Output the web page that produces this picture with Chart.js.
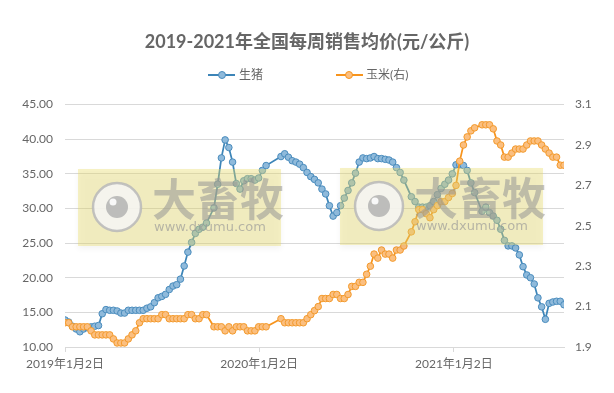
<!DOCTYPE html>
<html><head><meta charset="utf-8">
<script src="https://cdn.jsdelivr.net/npm/chart.js@4.4.1/dist/chart.umd.min.js"></script>
<style>html,body{margin:0;padding:0;background:#fff;}#wrap{width:614px;height:393px;}</style>
</head><body><div id="wrap"><canvas id="c" width="614" height="393"></canvas></div>
<script>
const chartTitle = '2019-2021年全国每周销售均价(元/公斤)';
const seriesNames = ['生猪', '玉米(右)'];
const tickDates = ['2019-01-02', '2020-01-02', '2021-01-02'];
const tickLabels = ['2019年1月2日', '2020年1月2日', '2021年1月2日'];
const watermarkText = ['大畜牧', 'www.dxumu.com'];

const dates = [
'2019-01-02','2019-01-09','2019-01-16','2019-01-23','2019-01-30','2019-02-06','2019-02-13','2019-02-20','2019-02-27',
'2019-03-06','2019-03-13','2019-03-20','2019-03-27','2019-04-03','2019-04-10','2019-04-17','2019-04-24',
'2019-05-01','2019-05-08','2019-05-15','2019-05-22','2019-05-29','2019-06-05','2019-06-12','2019-06-19','2019-06-26',
'2019-07-03','2019-07-10','2019-07-17','2019-07-24','2019-07-31','2019-08-07','2019-08-14','2019-08-21','2019-08-28',
'2019-09-04','2019-09-11','2019-09-18','2019-09-25','2019-10-09','2019-10-16','2019-10-23','2019-10-30',
'2019-11-06','2019-11-13','2019-11-20','2019-11-27','2019-12-04','2019-12-11','2019-12-18','2019-12-25',
'2020-01-01','2020-01-08','2020-01-15','2020-02-12','2020-02-19','2020-02-26',
'2020-03-04','2020-03-11','2020-03-18','2020-03-25','2020-04-01','2020-04-08','2020-04-15','2020-04-22','2020-04-29',
'2020-05-06','2020-05-13','2020-05-20','2020-05-27','2020-06-03','2020-06-10','2020-06-17','2020-06-24',
'2020-07-01','2020-07-08','2020-07-15','2020-07-22','2020-07-29','2020-08-05','2020-08-12','2020-08-19','2020-08-26',
'2020-09-02','2020-09-09','2020-09-16','2020-09-23','2020-09-30','2020-10-14','2020-10-21','2020-10-28',
'2020-11-04','2020-11-11','2020-11-18','2020-11-25','2020-12-02','2020-12-09','2020-12-16','2020-12-23','2020-12-30',
'2021-01-06','2021-01-13','2021-01-20','2021-01-27','2021-02-03','2021-02-10','2021-02-24',
'2021-03-03','2021-03-10','2021-03-17','2021-03-24','2021-03-31','2021-04-07','2021-04-14','2021-04-21','2021-04-28',
'2021-05-05','2021-05-12','2021-05-19','2021-05-26','2021-06-02','2021-06-09','2021-06-16','2021-06-23','2021-06-30',
'2021-07-07','2021-07-14','2021-07-21','2021-07-28'
];

const pigPrice = [
13.9,13.6,13.0,12.6,12.2,12.6,12.8,12.9,13.0,
13.1,14.8,15.4,15.3,15.3,15.2,14.9,14.9,
15.3,15.3,15.3,15.3,15.3,15.6,15.8,16.4,17.1,
17.3,17.6,18.3,18.8,19.0,19.8,21.7,23.7,25.1,
26.4,27.0,27.3,27.9,30.1,33.5,37.3,39.9,
38.8,36.7,33.6,32.8,34.0,34.3,34.3,34.1,
34.4,35.5,36.2,37.5,37.9,37.4,
36.9,36.7,36.4,35.9,35.2,34.6,34.2,33.7,32.8,
32.1,30.4,28.9,29.4,30.4,31.5,32.6,33.7,
35.1,36.7,37.3,37.2,37.3,37.5,37.2,37.2,37.1,
37.0,36.7,35.9,35.2,34.1,31.7,31.0,30.2,
30.2,30.2,30.4,31.0,32.0,32.9,33.5,34.1,35.0,
36.3,36.3,36.2,35.5,33.7,32.3,29.6,
30.2,29.4,28.9,28.3,27.0,25.4,24.6,24.6,24.3,
23.3,21.6,20.4,20.0,19.1,17.1,15.8,14.0,16.3,
16.5,16.6,16.6,16.1
];

const cornPrice = [
2.02,2.02,2.00,2.00,2.00,2.00,2.00,1.98,1.96,
1.96,1.96,1.96,1.96,1.94,1.92,1.92,1.92,
1.94,1.96,1.98,2.02,2.04,2.04,2.04,2.04,2.04,
2.06,2.06,2.04,2.04,2.04,2.04,2.04,2.06,2.06,
2.04,2.04,2.06,2.06,2.00,2.00,2.00,1.98,
2.00,1.98,2.00,2.00,2.00,1.98,1.98,1.98,
2.00,2.00,2.00,2.04,2.02,2.02,
2.02,2.02,2.02,2.02,2.04,2.06,2.08,2.10,2.14,
2.14,2.14,2.16,2.16,2.14,2.14,2.16,2.20,
2.20,2.22,2.22,2.26,2.30,2.36,2.34,2.38,2.36,
2.36,2.34,2.38,2.38,2.40,2.47,2.52,2.58,
2.58,2.56,2.54,2.58,2.60,2.62,2.62,2.64,2.66,
2.70,2.82,2.90,2.94,2.97,2.985,3.00,
3.00,3.00,2.98,2.92,2.90,2.84,2.84,2.86,2.88,
2.88,2.88,2.90,2.92,2.92,2.92,2.90,2.88,2.86,
2.84,2.84,2.80,2.80
];

const DAY = 86400000;
const origin = Date.parse(dates[0]);
const dayOf = d => (Date.parse(d) - origin) / DAY;

const FONT = "Lato, 'Noto Sans CJK SC', sans-serif";
Chart.defaults.font.family = FONT;
Chart.defaults.color = '#666666';

const legendItems = [
  {text: seriesNames[0], line: '#3d85b8', fill: '#8fbadb', stroke: '#4a8cbd', x0: 208, x1: 235, cx: 222, tx: 239},
  {text: seriesNames[1], line: '#f7941d', fill: '#fbbf80', stroke: '#f7941d', x0: 336, x1: 363, cx: 349, tx: 366}
];

const legendPlugin = {
  id: 'customLegend',
  afterDraw(chart) {
    const ctx = chart.ctx;
    const y = 75;
    ctx.save();
    legendItems.forEach(it => {
      ctx.strokeStyle = it.line; ctx.lineWidth = 2;
      ctx.beginPath(); ctx.moveTo(it.x0, y); ctx.lineTo(it.x1, y); ctx.stroke();
      ctx.beginPath(); ctx.arc(it.cx, y, 3.5, 0, Math.PI * 2);
      ctx.fillStyle = it.fill; ctx.fill(); ctx.lineWidth = 1; ctx.strokeStyle = it.stroke; ctx.stroke();
      ctx.fillStyle = '#666666'; ctx.font = "12px " + FONT;
      ctx.textAlign = 'left'; ctx.textBaseline = 'middle';
      ctx.fillText(it.text, it.tx, y);
    });
    ctx.restore();
  }
};

const marks = [
  {rx: 78, ry: 169, rw: 203, rh: 77, cx: 117, cy: 207, tx: 152},
  {rx: 340, ry: 168, rw: 203, rh: 77, cx: 379, cy: 206, tx: 414}
];

const watermarkPlugin = {
  id: 'watermark',
  afterDraw(chart) {
    const ctx = chart.ctx;
    marks.forEach(m => {
      ctx.save();
      ctx.shadowColor = 'rgba(0,0,0,0.12)'; ctx.shadowBlur = 6; ctx.shadowOffsetY = 3;
      ctx.fillStyle = 'rgba(235,222,110,0.40)';
      ctx.fillRect(m.rx, m.ry, m.rw, m.rh);
      ctx.restore();
      ctx.save();
      ctx.beginPath(); ctx.arc(m.cx, m.cy, 24, 0, Math.PI * 2);
      ctx.fillStyle = 'rgba(246,246,246,0.85)'; ctx.fill();
      ctx.lineWidth = 2.5; ctx.strokeStyle = 'rgba(185,185,185,0.85)'; ctx.stroke();
      ctx.beginPath(); ctx.arc(m.cx, m.cy, 11, 0, Math.PI * 2);
      ctx.fillStyle = 'rgba(175,175,175,0.8)'; ctx.fill();
      ctx.beginPath(); ctx.arc(m.cx - 4, m.cy - 5, 3.5, 0, Math.PI * 2);
      ctx.fillStyle = 'rgba(255,255,255,0.9)'; ctx.fill();
      ctx.fillStyle = 'rgba(150,150,150,0.55)';
      ctx.font = "bold 44px 'Noto Sans CJK SC', sans-serif";
      ctx.textAlign = 'left'; ctx.textBaseline = 'middle';
      ctx.fillText(watermarkText[0], m.tx, m.cy - 8);
      ctx.fillStyle = 'rgba(150,150,150,0.65)';
      ctx.font = "13px 'DejaVu Sans', sans-serif";
      ctx.fillText(watermarkText[1], m.tx + 2, m.cy + 21);
      ctx.restore();
    });
  }
};

new Chart(document.getElementById('c'), {
  type: 'line',
  data: {
    datasets: [
      {
        label: seriesNames[0], yAxisID: 'y', order: 1,
        data: dates.map((d, i) => ({x: dayOf(d), y: pigPrice[i]})),
        borderColor: '#3d85b8', borderWidth: 1.75,
        pointBackgroundColor: '#8fbadb', pointBorderColor: '#4a8cbd',
        pointRadius: 3.3, pointBorderWidth: 1, tension: 0
      },
      {
        label: seriesNames[1], yAxisID: 'y1', order: 0,
        data: dates.map((d, i) => ({x: dayOf(d), y: cornPrice[i]})),
        borderColor: '#f7941d', borderWidth: 1.75,
        pointBackgroundColor: '#fbbf80', pointBorderColor: '#f39a2c',
        pointRadius: 3.3, pointBorderWidth: 1, tension: 0
      }
    ]
  },
  options: {
    responsive: false, animation: false,
    layout: {padding: 0},
    plugins: {
      legend: {display: false},
      tooltip: {enabled: false},
      title: {
        display: true, text: chartTitle, color: '#666666',
        font: {size: 18, weight: 'bold', family: FONT},
        padding: {top: 31, bottom: 52}
      }
    },
    scales: {
      x: {
        type: 'linear', min: 0, max: dayOf(dates[dates.length - 1]),
        afterBuildTicks: s => { s.ticks = tickDates.map(d => ({value: dayOf(d)})); },
        afterFit: s => { s.height = 46; },
        ticks: {
          autoSkip: false, maxRotation: 0, padding: 5, font: {size: 12}, color: '#666666',
          callback: (v, i) => tickLabels[i]
        },
        grid: {drawOnChartArea: false, drawTicks: true, tickLength: 5, color: '#d9d9d9'},
        border: {color: '#d9d9d9', width: 1}
      },
      y: {
        position: 'left', min: 10, max: 45,
        afterFit: s => { s.width = 65; },
        ticks: {stepSize: 5, padding: 12, font: {size: 12}, color: '#666666', callback: v => v.toFixed(2)},
        grid: {color: '#d9d9d9', drawTicks: false},
        border: {display: false}
      },
      y1: {
        position: 'right', min: 1.9, max: 3.1,
        afterFit: s => { s.width = 50; },
        ticks: {stepSize: 0.2, padding: 11, font: {size: 12}, color: '#666666', callback: v => v.toFixed(1)},
        grid: {drawOnChartArea: false, drawTicks: false},
        border: {display: false}
      }
    }
  },
  plugins: [legendPlugin, watermarkPlugin]
});
</script>
</body></html>
